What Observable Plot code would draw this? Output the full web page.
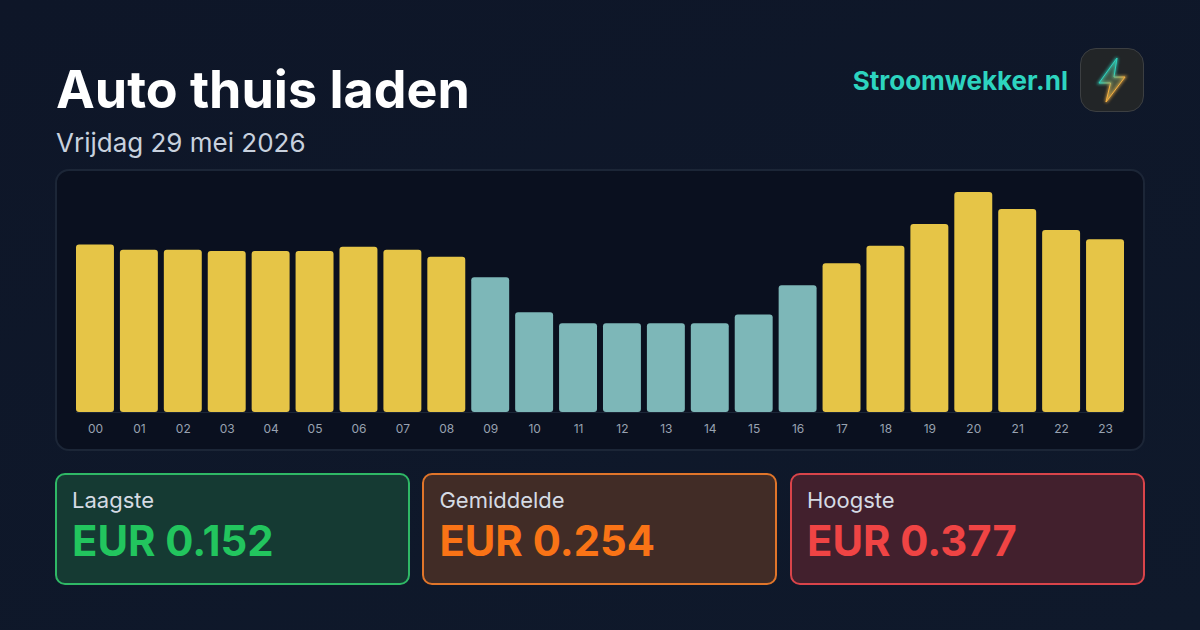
<!DOCTYPE html>
<html lang="nl">
<head>
<meta charset="utf-8">
<script src="https://cdn.jsdelivr.net/npm/d3@7"></script>
<script src="https://cdn.jsdelivr.net/npm/@observablehq/plot@0.6"></script>
<style>
html,body{margin:0;padding:0;}
body{width:1200px;height:630px;overflow:hidden;position:relative;background:linear-gradient(160deg,#0e1628,#0f192b);font-family:Inter,sans-serif;}
.abs{position:absolute;white-space:nowrap;}
#title{left:56px;top:59px;font-size:52px;line-height:62px;font-weight:700;color:#fff;}
#subtitle{left:56px;top:127px;font-size:26px;line-height:32px;color:#c8d1de;}
#brand{right:132px;top:64px;font-size:26px;line-height:34px;font-weight:700;color:#2dd4bf;}
#logo{left:1080px;top:48px;width:62px;height:62px;border:1px solid #3c3f42;border-radius:16px;background:#222527;}
#logo svg{display:block;}
#panel{left:55px;top:169px;width:1086px;height:278px;border:2px solid #1c2637;border-radius:14px;background:#0a101f;overflow:hidden;}
#panel svg{position:absolute;left:0;top:0;}
.card{position:absolute;top:473px;width:351px;height:108px;border:2px solid;border-radius:10px;}
.card .lab{position:absolute;left:15px;top:12px;font-size:22px;line-height:26px;color:#d5dbe4;}
.card .val{position:absolute;left:15px;top:40px;font-size:41.8px;line-height:52px;font-weight:700;}
</style>
</head>
<body>
<div class="abs" id="title"></div>
<div class="abs" id="subtitle"></div>
<div class="abs" id="brand"></div>
<div class="abs" id="logo">
<svg width="62" height="62" viewBox="0 0 62 62">
<defs>
<linearGradient id="bolt" x1="0.3" y1="0" x2="0.7" y2="1"><stop offset="0.4" stop-color="#2dd4bf"/><stop offset="0.6" stop-color="#f5b041"/></linearGradient>
<linearGradient id="boltFill" x1="0.3" y1="0" x2="0.7" y2="1"><stop offset="0" stop-color="#2dd4bf" stop-opacity=".3"/><stop offset="1" stop-color="#f5b041" stop-opacity=".32"/></linearGradient>
<filter id="glow" x="-60%" y="-40%" width="220%" height="180%"><feGaussianBlur stdDeviation="1.5"/></filter>
</defs>
<path d="M36 9 L18 34 L29.5 34 L25 53 L44 28 L33 28 Z" fill="none" stroke="url(#bolt)" stroke-width="2.4" opacity=".8" filter="url(#glow)"/>
<path d="M36 9 L18 34 L29.5 34 L25 53 L44 28 L33 28 Z" fill="url(#boltFill)" stroke="url(#bolt)" stroke-width="1" stroke-linejoin="round"/>
</svg>
</div>
<div class="abs" id="panel"></div>
<div id="cards"></div>
<script>
const titleText = "Auto thuis laden";
const subtitleText = "Vrijdag 29 mei 2026";
const brandText = "Stroomwekker.nl";
const hours = ["00","01","02","03","04","05","06","07","08","09","10","11","12","13","14","15","16","17","18","19","20","21","22","23"];
const prices = [0.287,0.278,0.278,0.276,0.276,0.276,0.283,0.278,0.266,0.231,0.171,0.152,0.152,0.152,0.152,0.167,0.217,0.255,0.285,0.322,0.377,0.348,0.312,0.296];
const tiers = ["d","d","d","d","d","d","d","d","d","g","g","g","g","g","g","g","g","d","d","d","d","d","d","d"];
const tierNames = ["d","g"];
const tierColors = ["#e6c547","#7db7b8"];
const cardLabels = ["Laagste","Gemiddelde","Hoogste"];
const cardValues = ["EUR 0.152","EUR 0.254","EUR 0.377"];
const cardLeft = [55,422.4,790];
const cardBorders = ["#2fb866","#e0752a","#d9444a"];
const cardFills = ["#153a33","#412c26","#42202d"];
const cardText = ["#22c55e","#f97316","#ef4444"];

document.getElementById("title").textContent = titleText;
document.getElementById("subtitle").textContent = subtitleText;
document.getElementById("brand").textContent = brandText;

const rows = hours.map((h,i)=>({hour:h,price:prices[i],tier:tiers[i]}));
const chart = Plot.plot({
  width:1086, height:278,
  marginTop:21, marginBottom:37, marginLeft:19, marginRight:19,
  style:{background:"transparent",fontFamily:"Inter, sans-serif"},
  x:{domain:hours,paddingInner:0.136,paddingOuter:0,round:false,label:null},
  y:{domain:[0,0.377],axis:null},
  color:{domain:tierNames,range:tierColors},
  marks:[
    Plot.barY(rows,{x:"hour",y:"price",fill:"tier",rx:3}),
    Plot.ruleY([0],{stroke:"#1c2637",strokeWidth:1}),
    Plot.axisX({tickSize:0,tickPadding:12,fontSize:12,color:"#98a2b1",label:null})
  ]
});
document.getElementById("panel").appendChild(chart);

const cards = document.getElementById("cards");
cardLabels.forEach((l,i)=>{
  const c=document.createElement("div");
  c.className="card";
  c.style.left=cardLeft[i]+"px";
  c.style.borderColor=cardBorders[i];
  c.style.background=cardFills[i];
  const a=document.createElement("div");a.className="lab";a.textContent=l;
  const b=document.createElement("div");b.className="val";b.textContent=cardValues[i];b.style.color=cardText[i];
  c.append(a,b);cards.appendChild(c);
});
</script>
</body>
</html>
